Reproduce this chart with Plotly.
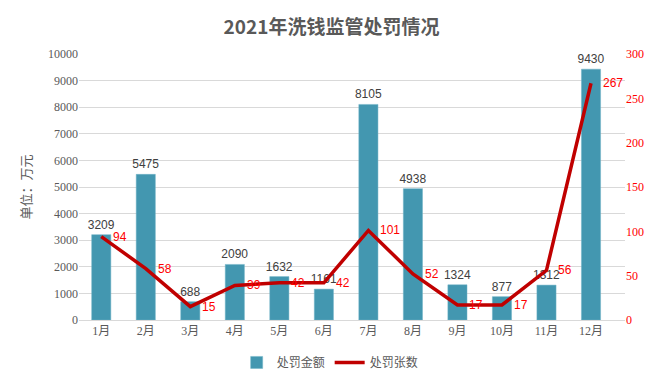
import plotly.graph_objects as go

months = ["1月", "2月", "3月", "4月", "5月", "6月", "7月", "8月", "9月", "10月", "11月", "12月"]
amounts = [3209, 5475, 688, 2090, 1632, 1161, 8105, 4938, 1324, 877, 1312, 9430]
counts = [94, 58, 15, 39, 42, 42, 101, 52, 17, 17, 56, 267]

# page body has an 8px margin, so the figure is sized/offset to compensate
W, H = 647, 374
ml, mr, mt, mb = 71, 30, 46, 62
pw, ph = W - ml - mr, H - mt - mb

fig = go.Figure()
fig.add_trace(go.Bar(
    x=months, y=amounts, name="处罚金额",
    marker=dict(color="#4397B0", line=dict(color="#6FB3C6", width=0.5)),
    width=0.43,
    text=[str(v) for v in amounts], textposition="outside", constraintext="none",
    textfont=dict(family="Liberation Sans, Arial", size=12, color="#404040"),
    cliponaxis=False,
))
fig.add_trace(go.Scatter(
    x=months, y=counts, name="处罚张数", yaxis="y2", mode="lines",
    line=dict(color="#C00000", width=3.5),
    cliponaxis=False,
))

annotations = []
for m, c in zip(months, counts):
    annotations.append(dict(x=m, y=c, xref="x", yref="y2", text=str(c), showarrow=False,
                            xanchor="left", yanchor="middle", xshift=10,
                            font=dict(family="Liberation Sans, Arial", size=12, color="#FF0000")))

fig.update_layout(
    width=W, height=H,
    margin=dict(l=ml, r=mr, t=mt, b=mb, autoexpand=False),
    paper_bgcolor="white", plot_bgcolor="white",
    title=dict(text="<b>2021年洗钱监管处罚情况</b>", x=0.5, xanchor="center", y=1 - 19 / H, yanchor="middle",
               font=dict(family="Noto Sans CJK SC", size=19, color="#595959")),
    xaxis=dict(showgrid=False, showline=True, linecolor="#D9D9D9", ticks="",
               tickfont=dict(family="Liberation Serif, Noto Sans CJK SC", size=12, color="#595959")),
    yaxis=dict(range=[0, 10000], dtick=1000, tickformat="d", showgrid=True, gridcolor="#D9D9D9", zeroline=False,
               tickfont=dict(family="Liberation Serif", size=12, color="#595959"),
               title=dict(text="单位：万元", font=dict(family="Noto Sans CJK SC", size=13, color="#595959"), standoff=13)),
    yaxis2=dict(range=[0, 300], dtick=50, overlaying="y", side="right", showgrid=False, zeroline=False,
                tickfont=dict(family="Liberation Serif", size=12, color="#FF0000")),
    bargap=0.57,
    showlegend=True,
    legend=dict(orientation="h", x=0.46, xanchor="center", y=-0.105, yanchor="top",
                font=dict(family="Noto Sans CJK SC", size=12, color="#595959")),
    annotations=annotations,
    shapes=[dict(type="rect", xref="paper", yref="paper",
                 x0=(-20 - ml) / pw, x1=(W - 1 - ml) / pw,
                 y0=(mb - (H - 3)) / ph, y1=(H + 20 - mb) / ph,
                 line=dict(color="#D9D9D9", width=1.5), layer="below")],
)
fig.write_html("out.html")
